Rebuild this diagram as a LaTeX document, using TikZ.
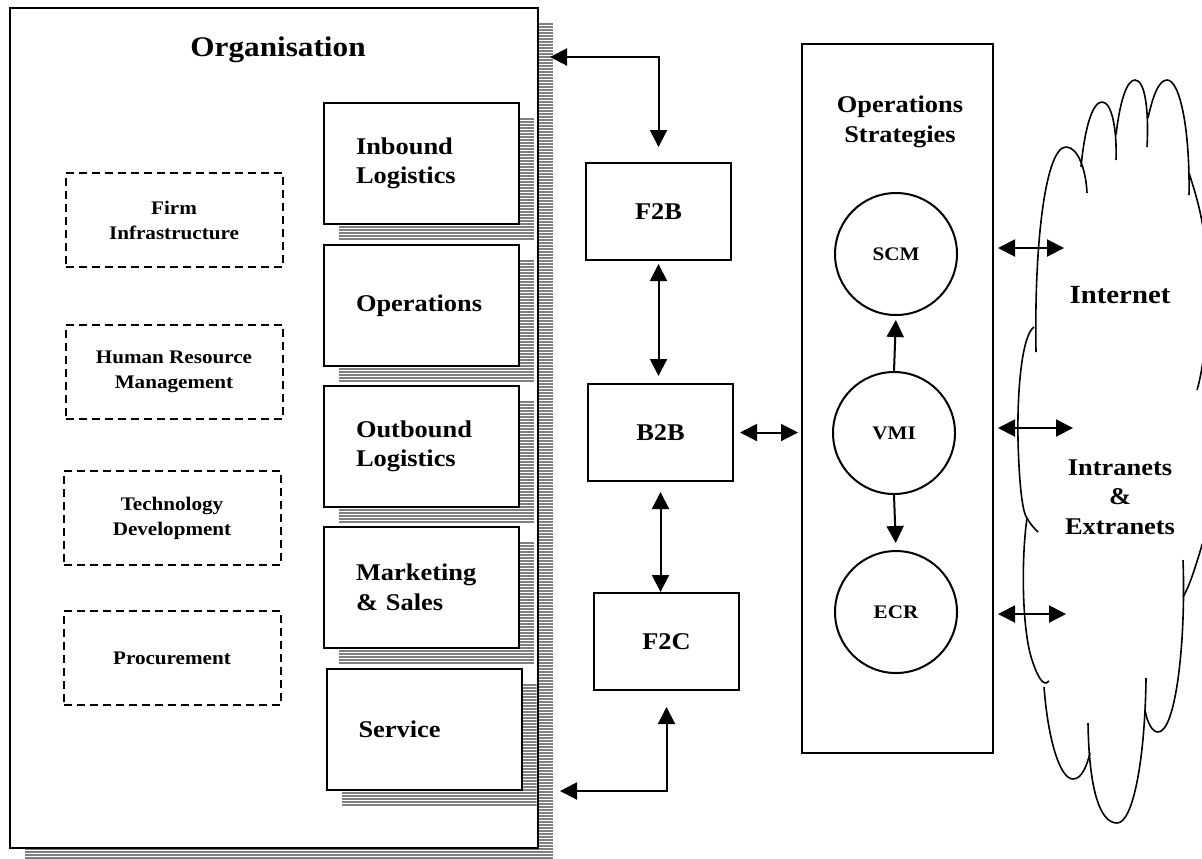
\documentclass[tikz,border=0pt]{standalone}
\usepackage{fontspec}
\setmainfont{Liberation Serif}[FakeStretch=1.1]
\usetikzlibrary{arrows.meta}
\definecolor{shadegray}{RGB}{128,128,128}
\newcommand{\orgfont}{\fontsize{14.2}{17}\selectfont\bfseries}
\newcommand{\chainfont}{\fontsize{12}{14.8}\selectfont\bfseries}
\newcommand{\supfont}{\fontsize{9.6}{12.5}\selectfont\bfseries}
\newcommand{\netfont}{\fontsize{13.1}{15}\selectfont\bfseries}
\tikzset{
  shadowed/.style={preaction={draw=none, transform canvas={shift={(7.5pt,-7.5pt)}},
    path picture={\foreach \k in {0,...,285}
      \draw[shadegray, line width=1.1pt]
        ([yshift=-\k*1.5pt-0.6pt]path picture bounding box.north west) --
        ([yshift=-\k*1.5pt-0.6pt]path picture bounding box.north east);}}},
  orgbox/.style={rectangle, draw, fill=white, line width=1pt,
    minimum width=264pt, minimum height=420pt, shadowed},
  chainbox/.style={rectangle, draw, fill=white, line width=1pt,
    minimum width=97.5pt, minimum height=60.5pt, text width=65.5pt,
    inner xsep=16pt, align=left, font=\chainfont, shadowed},
  supbox/.style={rectangle, draw, dash pattern=on 4pt off 2.5pt, line width=1pt,
    minimum width=108.5pt, minimum height=47pt, align=center, font=\supfont},
  linkbox/.style={rectangle, draw, line width=1pt,
    minimum width=72.5pt, minimum height=48.5pt, font=\chainfont},
  stratbox/.style={rectangle, draw, line width=1pt,
    minimum width=95.5pt, minimum height=354.5pt},
  stratcirc/.style={circle, draw, line width=1pt, minimum size=61pt, font=\supfont},
  dblarrow/.style={{Triangle[length=8.5pt,width=8.5pt]}-{Triangle[length=8.5pt,width=8.5pt]}, line width=1pt},
  onearrow/.style={-{Triangle[length=8.5pt,width=8.5pt]}, line width=1pt},
  cloudline/.style={line width=0.8pt}
}
\begin{document}
\begin{tikzpicture}[x=0.5pt, y=-0.5pt]
  \useasboundingbox (0,0) rectangle (1202,858);

  % Organisation and value chain
  \node (org) [orgbox] at (274,428) {};
  \node (orgtitle) [font=\orgfont] at (278,50) {Organisation};

  \node (inbound) [chainbox] at (421.5,163.5) {Inbound\\Logistics};
  \node (operations) [chainbox] at (421.5,305.5) {Operations};
  \node (outbound) [chainbox] at (421.5,446.5) {Outbound\\Logistics};
  \node (marketing) [chainbox] at (421.5,587.5) {Marketing\\\& Sales};
  \node (service) [chainbox] at (424,729.5) {Service};

  % Support activities
  \node (firm) [supbox] at (174,220) {Firm\\Infrastructure};
  \node (hrm) [supbox] at (174,372) {Human Resource\\Management};
  \node (tech) [supbox] at (172,518) {Technology\\Development};
  \node (proc) [supbox] at (172,658) {Procurement};

  % Links
  \node (f2b) [linkbox] at (658.5,211.5) {F2B};
  \node (b2b) [linkbox] at (660.5,432.5) {B2B};
  \node (f2c) [linkbox] at (666.5,641.5) {F2C};

  % Operations strategies
  \node (strat) [stratbox] at (897.5,398.5) {};
  \node (strattitle) [font=\chainfont, align=center] at (900,122) {Operations\\Strategies};
  \node (scm) [stratcirc] at (896,254) {SCM};
  \node (vmi) [stratcirc] at (894,433) {VMI};
  \node (ecr) [stratcirc] at (896,612) {ECR};

  % Cloud
  \draw[cloudline] (1036,352) .. controls (1034,240) and (1046,147) .. (1066,147)
    .. controls (1078,147) and (1086,170) .. (1087,193);
  \draw[cloudline] (1081,167) .. controls (1085,125) and (1093,102) .. (1102,102)
    .. controls (1112,102) and (1117,130) .. (1116,160);
  \draw[cloudline] (1116,135) .. controls (1120,100) and (1127,80) .. (1135,80)
    .. controls (1145,80) and (1149,110) .. (1147,147);
  \draw[cloudline] (1148,118) .. controls (1153,95) and (1159,80) .. (1167,80)
    .. controls (1180,80) and (1190,130) .. (1189,195);
  \draw[cloudline] (1189,173) .. controls (1196,195) and (1208,230) .. (1208,290)
    .. controls (1208,330) and (1203,370) .. (1197,390);
  \draw[cloudline] (1212,360) .. controls (1225,420) and (1222,500) .. (1202,545)
    .. controls (1196,565) and (1190,585) .. (1183,597);
  \draw[cloudline] (1183,560) .. controls (1186,640) and (1176,732) .. (1158,732)
    .. controls (1152,732) and (1147,722) .. (1145,710);
  \draw[cloudline] (1146,678) .. controls (1145,760) and (1133,823) .. (1117,823)
    .. controls (1100,823) and (1089,790) .. (1088,723);
  \draw[cloudline] (1044,687) .. controls (1048,740) and (1060,779) .. (1073,779)
    .. controls (1082,779) and (1087,765) .. (1090,753);
  \draw[cloudline] (1027,518) .. controls (1021,560) and (1022,630) .. (1032,660)
    .. controls (1037,675) and (1043,688) .. (1049,681);
  \draw[cloudline] (1034,327) .. controls (1022,335) and (1017,390) .. (1018,440)
    .. controls (1019,480) and (1022,512) .. (1027,518)
    .. controls (1030,524) and (1034,528) .. (1038,532);
  \node (internet) [font=\netfont] at (1120,295) {Internet};
  \node (intranets) [font=\chainfont, align=center] at (1120,497) {Intranets\\\&\\Extranets};

  % Connectors
  \coordinate (orgin) at (550,57);
  \coordinate (orgout) at (560,791);
  \coordinate (net1) at (1064,248);
  \coordinate (net2) at (1073,428);
  \coordinate (net3) at (1066,614);
  \draw[dblarrow, shorten >=7.5pt] (orgin) -| (f2b.north);
  \draw[dblarrow, shorten >=8pt] (orgout) -| (f2c.south);
  \draw[dblarrow, shorten <=1.5pt, shorten >=3.5pt] (f2b.south) -- (f2b.south |- b2b.north);
  \draw[dblarrow, shorten <=5pt] (b2b.south) -- (b2b.south |- f2c.north);
  \draw[dblarrow, shorten <=3pt, shorten >=1.5pt] (b2b.east) -- (b2b.east -| strat.west);
  \draw[onearrow, shorten >=2pt] (vmi.north) -- (scm.south);
  \draw[onearrow, shorten >=3.5pt] (vmi.south) -- (ecr.north);
  \draw[dblarrow, shorten <=2pt] (strat.east |- net1) -- (net1);
  \draw[dblarrow, shorten <=2pt] (strat.east |- net2) -- (net2);
  \draw[dblarrow, shorten <=2pt] (strat.east |- net3) -- (net3);
\end{tikzpicture}
\end{document}
